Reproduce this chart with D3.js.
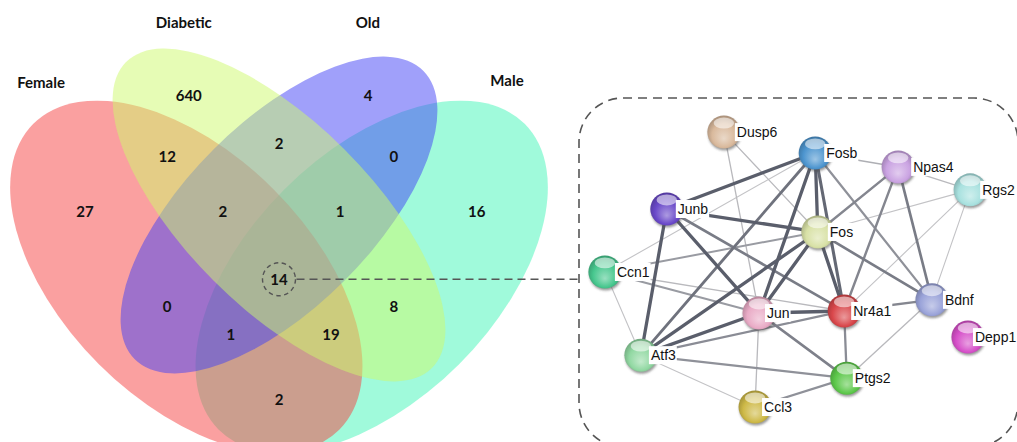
<!DOCTYPE html>
<html>
<head>
<meta charset="utf-8">
<script src="https://cdn.jsdelivr.net/npm/d3@7"></script>
<style>
  body { margin: 0; background: #ffffff; }
  svg { display: block; }
</style>
</head>
<body>
<svg id="chart" width="1017" height="442"></svg>
<script>
// ---- Venn diagram data ----
const setNames = ["Female", "Diabetic", "Old", "Male"];
const setColors = ["#f54141", "#cdf96b", "#4141f5", "#41f5b7"];
// Region keys: F = Female, D = Diabetic, O = Old, M = Male
const regionKeys = ["F", "D", "O", "M", "FD", "DO", "OM", "FO", "DM", "FM", "FDO", "DOM", "FOM", "FDM", "FDOM"];
const regionCounts = [27, 640, 4, 16, 12, 2, 0, 0, 8, 2, 2, 1, 1, 19, 14];
const highlightedRegion = "FDOM";

// ---- Interaction network data (genes shared by all four sets) ----
const genes = ["Dusp6", "Fosb", "Npas4", "Rgs2", "Junb", "Fos", "Ccn1", "Jun", "Nr4a1", "Bdnf", "Depp1", "Atf3", "Ptgs2", "Ccl3"];
const geneColors = ["#d9b99c", "#4d95cf", "#caa3e2", "#a8e1df", "#6a49c9", "#d8e1a6", "#47c78e", "#e9abc6", "#d9474b", "#9aa3d9", "#d650c9", "#91d8a2", "#5dc84b", "#ceb947"];
// [gene A, gene B, combined confidence]
const interactions = [
  ["Fosb", "Junb", 0.95], ["Fosb", "Jun", 0.95], ["Fosb", "Fos", 0.95], ["Fosb", "Nr4a1", 0.9],
  ["Junb", "Fos", 0.95], ["Junb", "Jun", 0.95], ["Junb", "Atf3", 0.95], ["Fos", "Jun", 0.95],
  ["Fos", "Nr4a1", 0.95], ["Fos", "Atf3", 0.95], ["Jun", "Nr4a1", 0.95], ["Jun", "Atf3", 0.97],
  ["Atf3", "Fosb", 0.85],
  ["Junb", "Nr4a1", 0.8], ["Fos", "Bdnf", 0.8], ["Fos", "Npas4", 0.75], ["Npas4", "Nr4a1", 0.75],
  ["Npas4", "Bdnf", 0.8], ["Bdnf", "Nr4a1", 0.75], ["Fosb", "Bdnf", 0.7], ["Jun", "Ptgs2", 0.78],
  ["Nr4a1", "Atf3", 0.72], ["Nr4a1", "Ptgs2", 0.72], ["Atf3", "Ptgs2", 0.7], ["Ccl3", "Ptgs2", 0.7],
  ["Fos", "Ccn1", 0.65], ["Jun", "Ccn1", 0.65],
  ["Dusp6", "Fos", 0.5], ["Dusp6", "Jun", 0.5], ["Fosb", "Npas4", 0.55], ["Npas4", "Rgs2", 0.5],
  ["Rgs2", "Fos", 0.45], ["Rgs2", "Bdnf", 0.45], ["Rgs2", "Nr4a1", 0.45], ["Bdnf", "Ptgs2", 0.5],
  ["Jun", "Ccl3", 0.5], ["Ccn1", "Nr4a1", 0.5], ["Ccn1", "Atf3", 0.45], ["Atf3", "Ccl3", 0.45],
  ["Fosb", "Ccn1", 0.45]
];

// ---- Layout ----
// Ellipses of the classic four-set Venn, in unit coordinates (y up)
const ellipseLayout = {
  Male:     { cx: 0.65, cy: 0.47, a: 0.35, b: 0.20, angle: -45 },
  Female:   { cx: 0.35, cy: 0.47, a: 0.35, b: 0.20, angle: 45 },
  Old:      { cx: 0.50, cy: 0.57, a: 0.33, b: 0.15, angle: -45 },
  Diabetic: { cx: 0.50, cy: 0.57, a: 0.35, b: 0.15, angle: 45 }
};
const drawOrder = ["Male", "Female", "Old", "Diabetic"];
const setLabelAnchors = {
  Female: [0.115, 0.784], Diabetic: [0.346, 0.881], Old: [0.644, 0.881], Male: [0.869, 0.788]
};
const regionAnchors = {
  F: [0.186, 0.575], D: [0.354, 0.764], O: [0.644, 0.764], M: [0.820, 0.575],
  FD: [0.319, 0.664], DO: [0.5, 0.685], OM: [0.686, 0.664], FO: [0.319, 0.421],
  DM: [0.686, 0.421], FM: [0.5, 0.271], FDO: [0.409, 0.575], DOM: [0.599, 0.575],
  FOM: [0.422, 0.376], FDM: [0.584, 0.376], FDOM: [0.5, 0.466]
};
// Network node positions inside the panel (0..1 on each axis) and label shift in px
const nodeLayout = {
  Dusp6: [0.330, 0.098, 13], Fosb: [0.538, 0.158, 11], Npas4: [0.727, 0.198, 15], Rgs2: [0.891, 0.264, 12],
  Junb: [0.200, 0.319, 11], Fos: [0.544, 0.385, 12], Ccn1: [0.059, 0.500, 12], Jun: [0.410, 0.618, 8],
  Nr4a1: [0.604, 0.612, 9], Bdnf: [0.804, 0.580, 13], Depp1: [0.886, 0.687, 7], Atf3: [0.141, 0.739, 10],
  Ptgs2: [0.610, 0.805, 8], Ccl3: [0.401, 0.888, 9]
};

const svg = d3.select("#chart");
const defs = svg.append("defs");

// ---- Venn scales ----
const unit = 618;
const vx = d3.scaleLinear().domain([0, 1]).range([279 - 0.5 * unit, 279 + 0.5 * unit]);
const vy = d3.scaleLinear().domain([0, 1]).range([215 + 0.57 * unit, 215 - 0.43 * unit]);
const len = d => vx(d) - vx(0);
const colorOf = d3.scaleOrdinal().domain(setNames).range(setColors);

const venn = svg.append("g").attr("class", "venn");
venn.selectAll("ellipse")
  .data(drawOrder.map(name => ({ name, ...ellipseLayout[name] })))
  .join("ellipse")
  .attr("cx", 0).attr("cy", 0)
  .attr("rx", d => len(d.a))
  .attr("ry", d => len(d.b))
  .attr("transform", d => `translate(${vx(d.cx)},${vy(d.cy)}) rotate(${d.angle})`)
  .attr("fill", d => colorOf(d.name))
  .attr("fill-opacity", 0.5);

const vennFont = "Lato, 'Open Sans', sans-serif";
venn.selectAll("text.set")
  .data(setNames)
  .join("text")
  .attr("class", "set")
  .attr("x", d => vx(setLabelAnchors[d][0]))
  .attr("y", d => vy(setLabelAnchors[d][1]))
  .attr("dy", "0.36em")
  .attr("text-anchor", "middle")
  .attr("font-family", vennFont)
  .attr("font-weight", 700)
  .attr("font-size", 15)
  .attr("fill", "#111")
  .text(d => d);

const regions = regionKeys.map((k, i) => ({ key: k, count: regionCounts[i] }));
venn.selectAll("text.count")
  .data(regions)
  .join("text")
  .attr("class", "count")
  .attr("x", d => vx(regionAnchors[d.key][0]))
  .attr("y", d => vy(regionAnchors[d.key][1]))
  .attr("dy", "0.36em")
  .attr("text-anchor", "middle")
  .attr("font-family", vennFont)
  .attr("font-weight", 700)
  .attr("font-size", 15)
  .attr("fill", "#111")
  .text(d => d.count);

// ---- Network panel scales ----
const px = d3.scaleLinear().domain([0, 1]).range([579, 1018]);
const py = d3.scaleLinear().domain([0, 1]).range([98, 446]);
const dashColor = "#555";

// Panel frame
svg.append("rect")
  .attr("x", px(0)).attr("y", py(0))
  .attr("width", px(1) - px(0)).attr("height", py(1) - py(0) + 1)
  .attr("rx", 44).attr("ry", 44)
  .attr("fill", "none")
  .attr("stroke", dashColor)
  .attr("stroke-width", 1.6)
  .attr("stroke-dasharray", "9,6");

// Highlight of the shared region and its link to the panel
const hx = vx(regionAnchors[highlightedRegion][0]);
const hy = vy(regionAnchors[highlightedRegion][1]);
const hr = 16.5;
svg.append("circle")
  .attr("cx", hx).attr("cy", hy).attr("r", hr)
  .attr("fill", "none")
  .attr("stroke", dashColor)
  .attr("stroke-width", 1.4)
  .attr("stroke-dasharray", "4.5,3.5");
svg.append("line")
  .attr("x1", hx + hr + 1).attr("y1", hy)
  .attr("x2", px(0)).attr("y2", hy)
  .attr("stroke", dashColor)
  .attr("stroke-width", 1.6)
  .attr("stroke-dasharray", "8,5");

// ---- Edges ----
const widthScale = d3.scaleLinear().domain([0.45, 0.95]).range([1.1, 3.3]).clamp(true);
const edgeColor = d3.scaleLinear().domain([0.45, 0.95]).range(["#c3c3c6", "#5a5e6b"]).clamp(true);
const net = svg.append("g").attr("class", "network");
net.append("g").selectAll("line")
  .data(interactions.slice().sort((a, b) => a[2] - b[2]))
  .join("line")
  .attr("x1", d => px(nodeLayout[d[0]][0]))
  .attr("y1", d => py(nodeLayout[d[0]][1]))
  .attr("x2", d => px(nodeLayout[d[1]][0]))
  .attr("y2", d => py(nodeLayout[d[1]][1]))
  .attr("stroke", d => edgeColor(d[2]))
  .attr("stroke-width", d => widthScale(d[2]))
  .attr("stroke-linecap", "round");

// ---- Nodes ----
const nodeR = 16.5;
const shadow = defs.append("filter").attr("id", "nodeShadow")
  .attr("x", "-50%").attr("y", "-50%").attr("width", "200%").attr("height", "200%");
shadow.append("feGaussianBlur").attr("stdDeviation", 1.2);

const nodes = genes.map((g, i) => ({
  gene: g, color: geneColors[i],
  x: px(nodeLayout[g][0]), y: py(nodeLayout[g][1]), shift: nodeLayout[g][2]
}));
nodes.forEach((d, i) => {
  const grad = defs.append("radialGradient").attr("id", "ball" + i)
    .attr("cx", "50%").attr("cy", "55%").attr("r", "55%")
    .attr("fx", "50%").attr("fy", "70%");
  grad.append("stop").attr("offset", "0%").attr("stop-color", d3.interpolateRgb(d.color, "#ffffff")(0.45));
  grad.append("stop").attr("offset", "65%").attr("stop-color", d.color);
  grad.append("stop").attr("offset", "100%").attr("stop-color", d3.color(d.color).darker(0.7));
});

const nodeG = net.append("g").selectAll("g")
  .data(nodes)
  .join("g")
  .attr("transform", d => `translate(${d.x},${d.y})`);

nodeG.append("circle")
  .attr("cx", 0.8).attr("cy", 2).attr("r", nodeR)
  .attr("fill", "#4a4a4a").attr("fill-opacity", 0.55)
  .attr("filter", "url(#nodeShadow)");
nodeG.append("circle")
  .attr("r", nodeR)
  .attr("fill", (d, i) => `url(#ball${i})`);
nodeG.append("ellipse")
  .attr("cx", 0).attr("cy", -nodeR * 0.55)
  .attr("rx", nodeR * 0.62).attr("ry", nodeR * 0.33)
  .attr("fill", "#ffffff").attr("fill-opacity", 0.55);

// Labels with white backing, overlapping the right side of each node
const labels = nodeG.append("g").attr("transform", d => `translate(${d.shift - 2},0)`);
labels.append("text")
  .attr("x", 2).attr("y", 0).attr("dy", "0.36em")
  .attr("font-family", "'Liberation Sans', Arial, sans-serif")
  .attr("font-size", 14)
  .attr("fill", "#111")
  .text(d => d.gene);
labels.insert("rect", "text")
  .attr("x", 0).attr("y", -9)
  .attr("height", 18)
  .attr("width", function () {
    return this.parentNode.querySelector("text").getComputedTextLength() + 3;
  })
  .attr("fill", "#ffffff");
</script>
</body>
</html>
